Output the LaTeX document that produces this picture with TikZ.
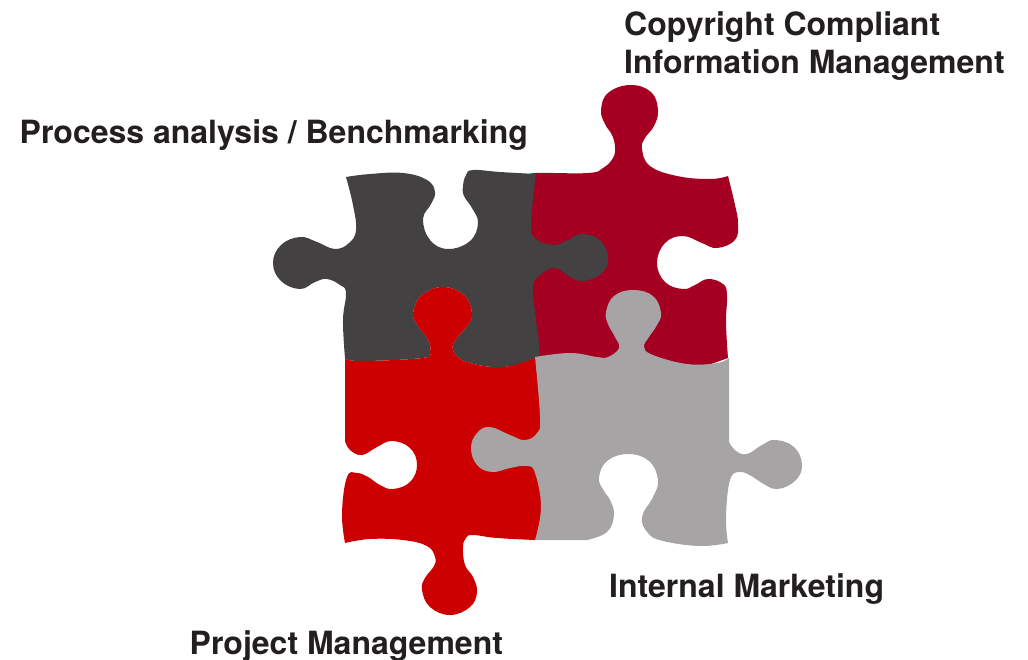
\documentclass[tikz,border=0pt]{standalone}
\usepackage{fontspec}
\setmainfont{TeX Gyre Heros}
\definecolor{crimsonp}{HTML}{A50021}
\definecolor{darkp}{HTML}{434142}
\definecolor{redp}{HTML}{CC0000}
\definecolor{greyp}{HTML}{A6A4A5}
\definecolor{labelc}{HTML}{231F20}
\tikzset{
  sm/.style={smooth,tension=0.7},
  lab/.style={anchor=base west,inner sep=0pt,text=labelc,font=\fontsize{32}{38}\selectfont\bfseries},
}
\begin{document}
\begin{tikzpicture}[x=1pt,y=-1pt]
\useasboundingbox (0,0) rectangle (1028,659);
% crimson
\fill[crimsonp] plot[sm] coordinates {(528,176) (536,173) (588,173) (603,168) (613,158) (615,147) (612,135) (605,124) (601,110) (608,93) (630,85) (651,92) (658,110) (654,126) (645,138) (642,149) (650,166) (677,176) (710,179) (728,176)}
 -- plot[sm] coordinates {(728,176) (735,205) (738,223) (735,240) (717,248) (702,243) (683,236) (665,243) (657,263) (665,282) (683,289) (695,285) (708,279) (723,284) (727,295) (726,323) (728,358)}
 -- (700,368) -- (530,368) -- cycle;
% dark
\fill[darkp] plot[sm] coordinates {(346,177) (370,174) (403,173) (427,180) (435,192) (431,204) (423,219) (430,240) (448,249) (470,241) (478,223) (472,208) (464,196) (463,186) (466,175) (473,170) (500,172) (536,174)}
 -- plot[sm] coordinates {(536,174) (531,223) (535,238) (553,245) (568,240) (582,234) (601,241) (608,260) (601,274) (583,281) (570,277) (555,268) (540,275) (533,287) (536,320) (539,347) (535,358) (503,367) (467,362) (453,350) (457,338) (468,325) (472,313) (464,295) (443,287) (422,295) (413,313) (418,326) (428,340) (430,352) (422,358) (360,361) (345,358)}
 -- plot[sm] coordinates {(345,358) (343,320) (346,293) (340,285) (327,279) (315,282) (300,289) (281,281) (273,263) (281,245) (300,237) (317,242) (335,249) (349,243) (356,230) (353,205) (346,177)}
 -- cycle;
% red
\fill[redp] plot[sm] coordinates {(345,358) (360,361) (422,358) (430,352) (428,340) (418,326) (413,313) (422,295) (443,287) (464,295) (472,313) (468,325) (457,338) (453,350) (467,362) (503,367) (535,358)}
 -- (545,370) -- (545,535) -- (535,540)
 -- plot[sm] coordinates {(535,540) (497,538) (473,535) (466,538) (463,547) (465,565) (473,577) (477,592) (470,607) (450,615) (430,607) (422,590) (425,578) (434,566) (435,557) (427,546) (403,540) (370,539) (345,543)}
 -- plot[sm] coordinates {(345,543) (342,513) (347,477) (357,473) (368,477) (380,485) (393,489) (410,482) (417,465) (410,448) (392,441) (377,447) (362,455) (350,450) (345,441)}
 -- cycle;
% grey
\fill[greyp] plot[sm] coordinates {(535,357) (570,353) (597,357) (608,357) (619,348) (615,337) (608,324) (606,312) (614,296) (633,290) (653,296) (661,313) (657,325) (649,337) (644,347) (653,355) (687,364) (717,363) (729,358)}
 -- (729,442)
 -- plot[sm] coordinates {(729,442) (736,451) (747,454) (762,445) (775,440) (794,447) (802,465) (795,481) (777,489) (762,483) (753,477) (740,472) (730,480) (726,517) (728,543)}
 -- plot[sm] coordinates {(728,543) (700,546) (663,541) (648,533) (642,517) (653,497) (658,480) (649,461) (628,454) (607,461) (599,478) (604,491) (610,500) (614,515) (607,532) (587,540)}
 -- (535,540)
 -- plot[sm] coordinates {(535,540) (541,507) (535,473) (527,466) (510,468) (492,472) (477,465) (471,448) (477,433) (490,427) (510,435) (525,440) (537,433) (540,417) (535,357)}
 -- cycle;
% labels
\node[lab] (t1) at (624,35) {Copyright Compliant};
\node[lab] (t2) at (624,73) {Information Management};
\node[lab] (t3) at (19.5,143) {Process analysis / Benchmarking};
\node[lab] (t4) at (609,597) {Internal Marketing};
\node[lab] (t5) at (189.5,654) {Project Management};
\end{tikzpicture}
\end{document}
